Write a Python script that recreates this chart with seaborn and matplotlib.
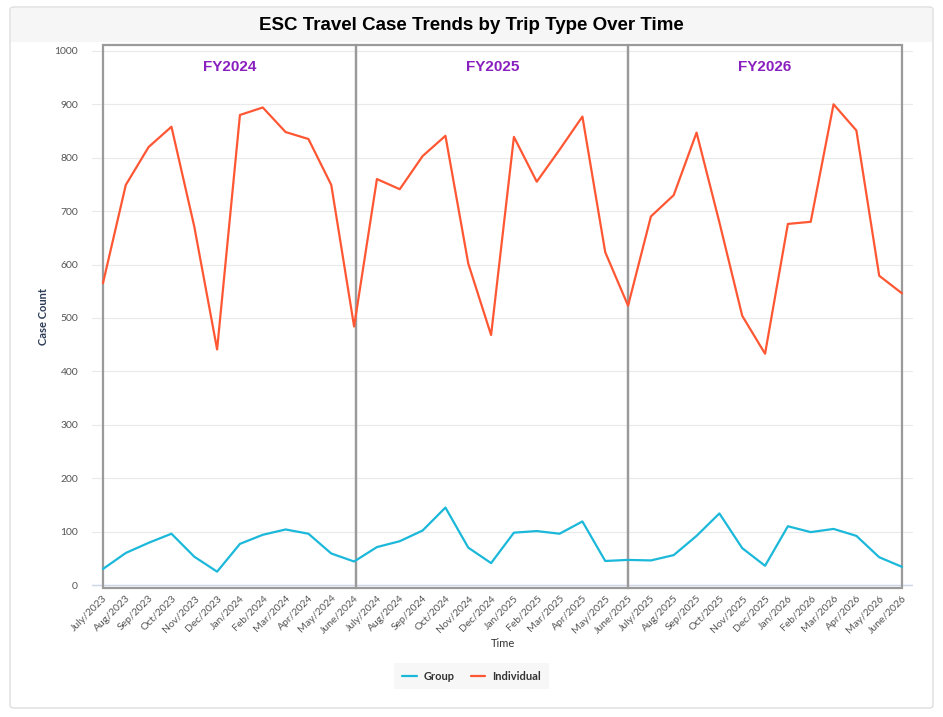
import pandas as pd
import matplotlib.pyplot as plt
import seaborn as sns
from matplotlib.patches import FancyBboxPatch, Rectangle

# Meses (etiquetas del eje x)
meses = ['July/2023', 'Aug/2023', 'Sep/2023', 'Oct/2023', 'Nov/2023', 'Dec/2023',
         'Jan/2024', 'Feb/2024', 'Mar/2024', 'Apr/2024', 'May/2024', 'June/2024',
         'July/2024', 'Aug/2024', 'Sep/2024', 'Oct/2024', 'Nov/2024', 'Dec/2024',
         'Jan/2025', 'Feb/2025', 'Mar/2025', 'Apr/2025', 'May/2025', 'June/2025',
         'July/2025', 'Aug/2025', 'Sep/2025', 'Oct/2025', 'Nov/2025', 'Dec/2025',
         'Jan/2026', 'Feb/2026', 'Mar/2026', 'Apr/2026', 'May/2026', 'June/2026']

grupo = [30, 60, 79, 96, 53, 25, 77, 94, 104, 96, 59, 44,
         71, 82, 102, 145, 70, 41, 98, 101, 96, 119, 45, 47,
         46, 56, 92, 134, 69, 36, 110, 99, 105, 92, 52, 34]

individual = [565, 749, 820, 858, 671, 441, 880, 894, 848, 835, 749, 484,
              760, 741, 803, 841, 602, 468, 839, 755, 815, 877, 623, 523,
              690, 730, 847, 679, 504, 433, 676, 680, 900, 851, 579, 546]

# Años fiscales y límites (índice del mes)
anios_fiscales = ['FY2024', 'FY2025', 'FY2026']
limites_fy = [0, 11.1, 23, 35]

df = pd.DataFrame({
    'Time': list(range(len(meses))) * 2,
    'Case Count': grupo + individual,
    'Trip Type': ['Group'] * len(meses) + ['Individual'] * len(meses),
})

sns.set_theme(style='white')
plt.rcParams['font.family'] = ['Lato', 'DejaVu Sans']

fig = plt.figure(figsize=(9.43, 7.17), dpi=100)

# Tarjeta de fondo con franja del título
W, H = 943, 717
card = FancyBboxPatch((10 / W, 1 - 708 / H), 923 / W, 701 / H,
                      boxstyle='round,pad=0,rounding_size=0.004',
                      transform=fig.transFigure, facecolor='white',
                      edgecolor='#dddddd', linewidth=1, zorder=-2)
fig.patches.append(card)
banda = Rectangle((11 / W, 1 - 42 / H), 921 / W, 34 / H, transform=fig.transFigure,
                  facecolor='#f6f6f6', edgecolor='none', zorder=-1)
fig.patches.append(banda)

fig.text(0.5, 1 - 25 / H, 'ESC Travel Case Trends by Trip Type Over Time',
         ha='center', va='center', fontsize=13.5, fontweight='bold',
         family='Liberation Sans', color='#000000')

ax = fig.add_axes([92 / W, 1 - 588 / H, 821 / W, 543 / H])
ax.set_zorder(1)
ax.set_facecolor('none')

sns.lineplot(data=df, x='Time', y='Case Count', hue='Trip Type',
             palette={'Group': '#1bb8da', 'Individual': '#ff5733'},
             linewidth=1.6, ax=ax, zorder=3)

ax.set_xlim(-0.48, 35.48)
ax.set_ylim(-5.6, 1011)
ax.set_yticks(range(0, 1001, 100))
ax.set_xticks(range(len(meses)))
ax.set_xticklabels(meses, rotation=45, ha='right', rotation_mode='anchor',
                   fontsize=7.5, color='#555555')
ax.tick_params(axis='y', labelsize=7.5, labelcolor='#555555', length=0, pad=10)
ax.tick_params(axis='x', length=0, pad=4)
for s in ax.spines.values():
    s.set_visible(False)
ax.grid(axis='y', color='#e9e9e9', linewidth=0.8)
ax.axhline(0, color='#ccd6eb', linewidth=1, zorder=1)

# Recuadros de cada año fiscal
for i in range(len(anios_fiscales)):
    x0, x1 = limites_fy[i], limites_fy[i + 1]
    ax.add_patch(Rectangle((x0, -5.6), x1 - x0, 1016.6, fill=False,
                           edgecolor='#9a9a9a', linewidth=1.6, zorder=2,
                           clip_on=False))
    ax.text((x0 + x1) / 2, 970, anios_fiscales[i], ha='center', va='center',
            fontsize=11, fontweight='bold', family='Liberation Sans',
            color='#8a1fbf')

ax.set_xlabel('Time', fontsize=8, color='#333333', labelpad=2)
ax.set_ylabel('Case Count', fontsize=8, color='#2b3a55', fontweight='bold', labelpad=4)

leg = ax.legend(loc='center', bbox_to_anchor=(0.5, 1 - 676 / H), bbox_transform=fig.transFigure,
                ncol=2, frameon=True, handlelength=1.3, columnspacing=1.5,
                handletextpad=0.6, borderpad=0.7, prop={'weight': 'bold', 'size': 8})
leg.get_frame().set_facecolor('#f5f5f5')
leg.get_frame().set_edgecolor('none')
leg.get_frame().set_boxstyle('square', pad=0)
for t in leg.get_texts():
    t.set_color('#333333')

fig.savefig('out.png', dpi=100)
